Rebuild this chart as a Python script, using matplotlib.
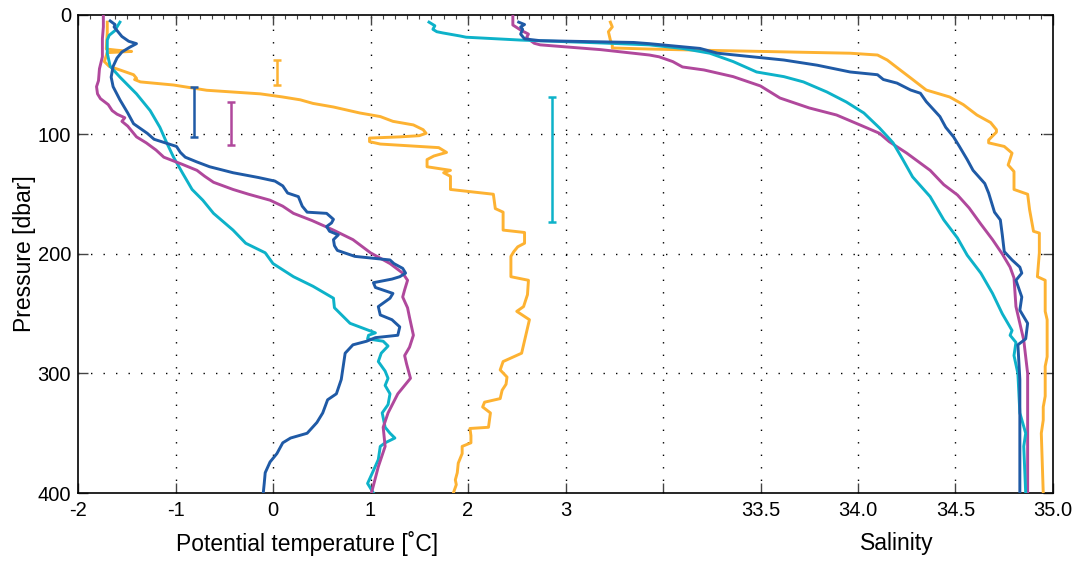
import matplotlib
matplotlib.use("Agg")
import matplotlib.pyplot as plt
from matplotlib.ticker import MultipleLocator
import numpy as np

plt.rcParams['font.family'] = ['Liberation Sans', 'DejaVu Sans']

# station colours
c_blue = '#1f5aa6'
c_mag = '#b0489c'
c_cyan = '#0db2c9'
c_orng = '#fdb232'

# potential temperature profiles (pressure [dbar], theta [degC])
p_tb = [5, 8, 10, 12, 18, 22, 24, 27, 31, 36, 43, 52, 60, 71, 82, 91, 99, 104, 110, 115,
        119, 123, 127, 132, 136, 139, 143, 149, 152, 160, 165, 166, 171, 174, 177, 181, 184,
        188, 193, 197, 202, 205, 208, 212, 216, 219, 221, 224, 228, 233, 237, 244, 251, 255,
        261, 268, 270, 273, 276, 283, 294, 305, 317, 322, 333, 341, 350, 354, 358, 367, 374,
        383, 392, 400]
t_b = [-1.67, -1.62, -1.63, -1.61, -1.55, -1.48, -1.40, -1.47, -1.55, -1.60, -1.64, -1.66,
       -1.64, -1.57, -1.49, -1.43, -1.29, -1.22, -0.99, -0.95, -0.90, -0.78, -0.65, -0.41,
       -0.15, 0.02, 0.10, 0.15, 0.26, 0.30, 0.35, 0.55, 0.62, 0.60, 0.55, 0.58, 0.67, 0.62,
       0.63, 0.66, 0.84, 1.20, 1.24, 1.33, 1.36, 1.30, 1.22, 1.03, 1.05, 1.23, 1.20, 1.08,
       1.10, 1.22, 1.30, 1.28, 1.05, 0.96, 0.82, 0.74, 0.72, 0.70, 0.65, 0.56, 0.51, 0.45,
       0.35, 0.18, 0.10, 0.04, -0.03, -0.08, -0.09, -0.10]

p_tm = [0, 10, 20, 35, 45, 55, 60, 66, 70, 75, 80, 83, 86, 89, 93, 98, 102, 107, 113, 119,
        125, 130, 135, 140, 146, 150, 155, 160, 166, 172, 180, 188, 199, 208, 216, 222, 230,
        236, 245, 253, 268, 278, 285, 292, 304, 310, 317, 333, 345, 361, 378, 400]
t_m = [-1.74, -1.74, -1.75, -1.75, -1.78, -1.79, -1.81, -1.80, -1.77, -1.69, -1.65, -1.60,
       -1.52, -1.55, -1.49, -1.44, -1.40, -1.30, -1.20, -1.12, -0.93, -0.78, -0.70, -0.61,
       -0.41, -0.25, -0.03, 0.10, 0.21, 0.40, 0.62, 0.82, 1.00, 1.20, 1.33, 1.38, 1.35, 1.33,
       1.38, 1.40, 1.44, 1.40, 1.35, 1.37, 1.41, 1.35, 1.28, 1.18, 1.13, 1.15, 1.08, 1.01]

p_tc = [6, 10, 13, 17, 21, 32, 43, 52, 66, 80, 94, 107, 119, 132, 146, 155, 166, 180, 191,
        199, 208, 219, 227, 237, 245, 258, 262, 266, 268, 271, 273, 277, 283, 290, 298, 304,
        310, 317, 326, 333, 345, 350, 354, 358, 361, 372, 383, 392, 400]
t_c = [-1.57, -1.60, -1.62, -1.68, -1.70, -1.70, -1.67, -1.57, -1.40, -1.26, -1.16, -1.09,
       -1.02, -0.93, -0.83, -0.72, -0.61, -0.41, -0.28, -0.08, 0.00, 0.21, 0.41, 0.62, 0.63,
       0.79, 0.92, 1.05, 0.98, 0.97, 1.13, 1.18, 1.11, 1.08, 1.15, 1.18, 1.15, 1.20, 1.18,
       1.12, 1.15, 1.20, 1.25, 1.15, 1.10, 1.08, 1.02, 0.97, 1.03]

p_to = [6, 15, 28.5, 29.5, 30.5, 31.5, 39, 43, 46, 50, 53, 54, 56, 58.6, 63, 66, 68.5, 71,
        74, 77, 82, 85, 89, 92, 96, 99, 101, 102, 103, 106, 108, 110, 111, 115, 118, 121, 127,
        130, 132, 135, 146, 150, 162, 165, 180, 182, 191, 194, 198, 202, 219, 222, 234, 244,
        248, 255, 269, 283, 290, 297, 303, 309, 314, 321, 324, 328, 333, 345, 346, 352, 358,
        361, 367, 375, 383, 389, 393, 400]
t_o = [-1.70, -1.70, -1.71, -1.60, -1.45, -1.70, -1.73, -1.68, -1.57, -1.43, -1.40, -1.42,
       -1.36, -1.02, -0.68, -0.13, 0.09, 0.28, 0.41, 0.62, 0.89, 1.10, 1.23, 1.44, 1.54,
       1.57, 1.50, 1.30, 0.99, 0.99, 1.10, 1.50, 1.70, 1.78, 1.65, 1.58, 1.58, 1.82, 1.75,
       1.82, 1.82, 2.26, 2.28, 2.36, 2.36, 2.58, 2.58, 2.51, 2.47, 2.44, 2.44, 2.62, 2.61,
       2.57, 2.50, 2.63, 2.59, 2.55, 2.36, 2.33, 2.40, 2.39, 2.35, 2.33, 2.17, 2.15, 2.23,
       2.21, 2.02, 2.03, 2.03, 1.94, 1.94, 1.90, 1.89, 1.87, 1.88, 1.85]

# salinity profiles (pressure [dbar], practical salinity)
p_sb = [6, 8, 10, 12, 16, 20, 21.5, 23, 24, 28, 32, 37.7, 42, 47.7, 50, 54, 57, 62.8, 65.5,
        72.5, 85, 94, 102, 110, 121, 130, 141, 149, 165, 171.5, 184, 198, 205, 211, 216, 222,
        236, 247, 258, 271, 276, 305, 400]
s_b = [32.26, 32.29, 32.27, 32.28, 32.27, 32.29, 32.37, 32.85, 32.93, 33.19, 33.28, 33.62,
       33.79, 33.96, 34.10, 34.13, 34.20, 34.27, 34.32, 34.35, 34.42, 34.45, 34.49, 34.52,
       34.56, 34.59, 34.65, 34.67, 34.70, 34.73, 34.74, 34.75, 34.79, 34.83, 34.84, 34.81,
       34.84, 34.83, 34.87, 34.86, 34.82, 34.83, 34.83]

p_sm = [1, 8.4, 12.6, 16, 19, 23.7, 25, 29, 33.5, 35, 39, 43.5, 46, 51.6, 59.4, 69.5, 77.8,
        83.7, 92, 99, 106, 115.6, 130, 142, 150.6, 161.5, 175, 188, 200, 211, 220, 244, 272,
        300, 400]
s_m = [32.23, 32.23, 32.27, 32.31, 32.30, 32.34, 32.37, 32.68, 32.93, 32.98, 33.05, 33.10,
       33.21, 33.36, 33.50, 33.60, 33.75, 33.89, 34.01, 34.11, 34.16, 34.25, 34.37, 34.44,
       34.51, 34.57, 34.63, 34.69, 34.74, 34.78, 34.80, 34.81, 34.85, 34.87, 34.87]

p_sc = [6, 9, 12, 14, 15, 17.6, 18.6, 21, 23.4, 25, 28, 32, 39, 47.7, 51.6, 56, 64.4, 72.8,
        82, 94.5, 107, 121, 135.5, 152, 171.5, 186.6, 201, 216, 233, 250, 264, 268, 274, 285,
        300, 333, 350, 361, 400]
s_c = [31.80, 31.83, 31.82, 31.84, 31.87, 31.96, 31.99, 32.27, 32.68, 32.93, 33.10, 33.24,
       33.36, 33.48, 33.62, 33.72, 33.84, 33.94, 34.03, 34.11, 34.18, 34.23, 34.28, 34.37,
       34.44, 34.51, 34.56, 34.63, 34.69, 34.74, 34.79, 34.78, 34.81, 34.80, 34.82, 34.83,
       34.86, 34.85, 34.86]

p_so = [6, 10, 14, 21, 25, 27.6, 28.5, 29.5, 32, 33.5, 37.7, 44, 52.7, 62.8, 68.6, 75, 83.7,
        90, 96, 98, 104.6, 107, 110, 115.6, 125.5, 131, 146, 150, 163, 181, 182.5, 199, 219,
        222, 248, 255, 286, 294, 319, 328, 339, 350, 400]
s_o = [32.73, 32.74, 32.72, 32.73, 32.74, 32.74, 32.93, 33.20, 33.96, 34.10, 34.15, 34.20,
       34.27, 34.35, 34.47, 34.54, 34.61, 34.68, 34.71, 34.71, 34.67, 34.67, 34.75, 34.79,
       34.77, 34.80, 34.80, 34.87, 34.88, 34.90, 34.93, 34.93, 34.92, 34.96, 34.96, 34.97,
       34.97, 34.96, 34.96, 34.95, 34.95, 34.94, 34.95]

# uncertainty bars: x position, top and bottom pressure
err_x = [0.04, -0.81, -0.43, 2.86]
err_top = [38, 60, 73, 69]
err_bot = [59, 102, 109, 173]
err_col = [c_orng, c_blue, c_mag, c_cyan]

# axis ticks
temp_ticks = [-2, -1, 0, 1, 2, 3]
sal_ticks = [33.0, 33.5, 34.0, 34.5, 35.0]
sal_labels = ['', '33.5', '34.0', '34.5', '35.0']
p_ticks = [0, 100, 200, 300, 400]


def sal_to_x(s):
    # salinity shares the x axis: 33.5 sits at 5, 0.5 psu per unit
    return 5 + 2 * (np.asarray(s) - 33.5)


fig = plt.figure(figsize=(10.79, 5.61), dpi=100)
ax = fig.add_axes([0.0723, 0.1212, 0.9036, 0.8521])

lw = 2.1
ax.plot(t_o, p_to, color=c_orng, lw=lw, zorder=3)
ax.plot(t_c, p_tc, color=c_cyan, lw=lw, zorder=3)
ax.plot(t_m, p_tm, color=c_mag, lw=lw, zorder=3)
ax.plot(t_b, p_tb, color=c_blue, lw=lw, zorder=4)

ax.plot(sal_to_x(s_o), p_so, color=c_orng, lw=lw, zorder=3)
ax.plot(sal_to_x(s_m), p_sm, color=c_mag, lw=lw, zorder=3)
ax.plot(sal_to_x(s_c), p_sc, color=c_cyan, lw=lw, zorder=3)
ax.plot(sal_to_x(s_b), p_sb, color=c_blue, lw=lw, zorder=4)

for x, top, bot, col in zip(err_x, err_top, err_bot, err_col):
    mid = (top + bot) / 2
    ax.errorbar([x], [mid], yerr=[[mid - top], [bot - mid]], color=col, lw=1.8,
                capsize=3, capthick=1.8, fmt='none', zorder=4)

ax.set_xlim(-2, 8)
ax.set_ylim(400, 0)

xt = temp_ticks + list(sal_to_x(sal_ticks))
xl = [str(t) for t in temp_ticks] + sal_labels
ax.set_xticks(xt)
ax.set_xticklabels(xl)
ax.set_yticks(p_ticks)
ax.xaxis.set_minor_locator(MultipleLocator(0.125))

ax.tick_params(axis='both', which='major', direction='in', length=7, width=1.0,
               color='#444444', labelsize=14.5, top=True, right=True)
ax.tick_params(axis='x', which='major', pad=6)
ax.tick_params(axis='y', which='major', pad=5)
ax.tick_params(axis='x', which='minor', direction='in', length=3, width=0.8,
               color='#444444', top=True, bottom=False)

for s in ax.spines.values():
    s.set_linewidth(1.2)

# dotted grid on the inner integer positions
for gx in range(-1, 8):
    ax.axvline(gx, color='black', lw=1.0, ls=(0, (1, 8)), zorder=1)
for gp in p_ticks[1:-1]:
    ax.axhline(gp, color='black', lw=1.0, ls=(0, (1, 8)), zorder=1)

fig.text(25 / 1079, 0.5 * (0.1212 + 0.9733), 'Pressure [dbar]', rotation=90,
         ha='center', va='center', fontsize=16.5)
ax.text(0.35, -0.105, 'Potential temperature [˚C]', transform=ax.get_xaxis_transform(),
        ha='center', va='center', fontsize=16.5)
ax.text(6.4, -0.105, 'Salinity', transform=ax.get_xaxis_transform(),
        ha='center', va='center', fontsize=16.5)

fig.savefig('out.png', dpi=100)
